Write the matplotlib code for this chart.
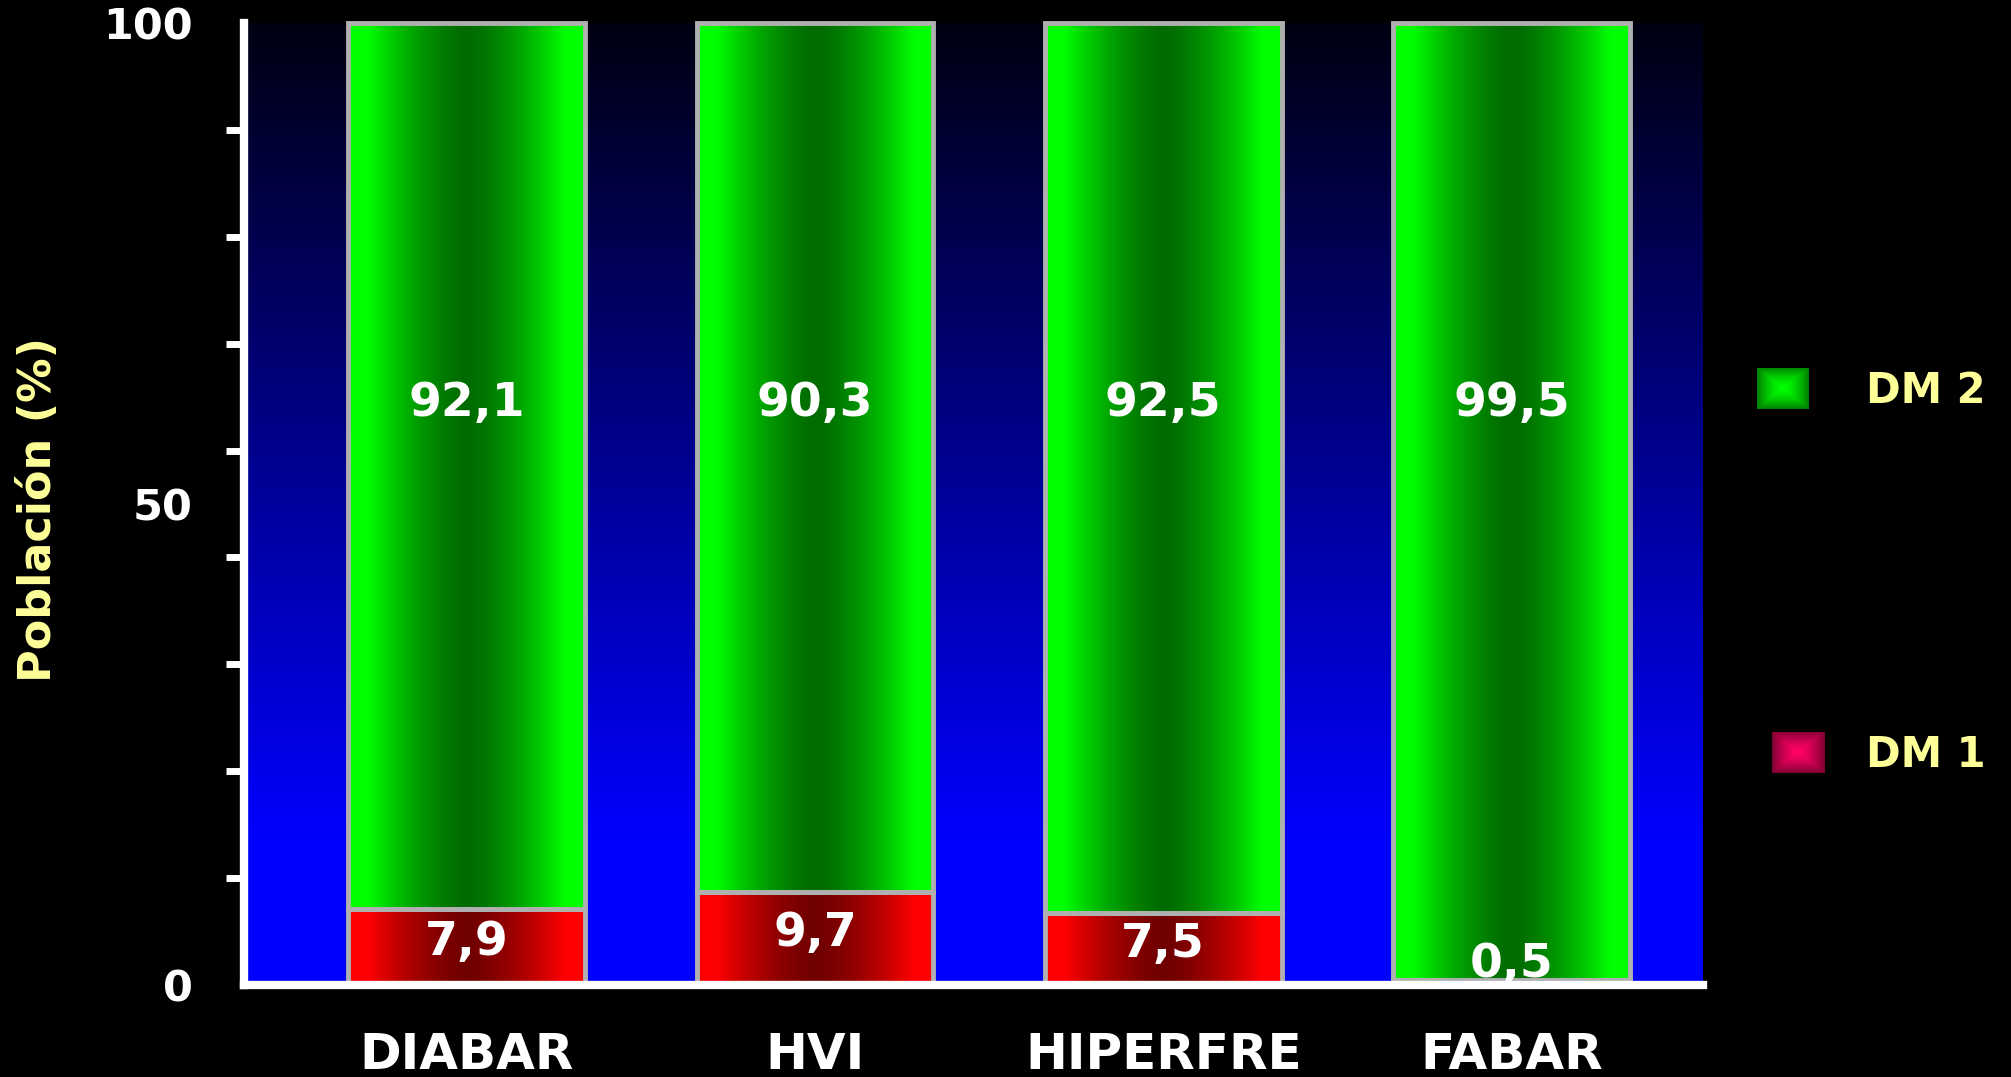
import numpy as np
import matplotlib
matplotlib.use("Agg")
import matplotlib.pyplot as plt

# data
categories = ["DIABAR", "HVI", "HIPERFRE", "FABAR"]
dm1 = [7.9, 9.7, 7.5, 0.5]
dm2 = [92.1, 90.3, 92.5, 99.5]
series_names = ["DM 1", "DM 2"]
y_labels = [0, 50, 100]

plt.rcParams['font.family'] = ['DejaVu Sans']
plt.rcParams['font.weight'] = 'bold'

pale_yellow = '#FFFF99'


def fmt(v):
    return f"{v:.1f}".replace('.', ',')


def bar_gradient(dark, bright):
    # bright at both edges, dark in the middle
    t = np.linspace(0, 1, 200)
    f = np.clip(np.abs(t - 0.5) / 0.42, 0, 1) ** 1.5
    dark = np.array(dark)
    bright = np.array(bright)
    rgb = dark[None, :] + (bright - dark)[None, :] * f[:, None]
    return rgb[None, :, :]


def square_gradient(center, edge):
    u = np.linspace(-1, 1, 60)
    d = np.maximum(np.abs(u)[None, :], np.abs(u)[:, None]) ** 1.5
    center = np.array(center)
    edge = np.array(edge)
    return center + (edge - center) * d[:, :, None]


fig = plt.figure(figsize=(20.11, 10.77), dpi=100, facecolor='black')
ax = fig.add_axes([0.1213, 0.0854, 0.7255, 0.8932])
ax.set_facecolor('black')

# background: dark navy at top fading to pure blue at the bottom
yy = np.linspace(0, 100, 300)
blue = np.where(yy < 15, 1.0, 1.0 - (yy - 15) / 85 * 0.93)
bg = np.zeros((300, 1, 3))
bg[:, 0, 2] = blue
ax.imshow(bg, extent=(0, 1, 0, 1), transform=ax.transAxes, aspect='auto',
          origin='lower', zorder=0)

x = np.arange(len(categories))
width = 0.68
red_img = bar_gradient((0.44, 0.0, 0.0), (1.0, 0.0, 0.0))
green_img = bar_gradient((0.0, 0.42, 0.0), (0.0, 1.0, 0.0))

for i in range(len(categories)):
    left = x[i] - width / 2
    ax.imshow(red_img, extent=(left, left + width, 0, dm1[i]),
              aspect='auto', zorder=2)
    ax.imshow(green_img, extent=(left, left + width, dm1[i], dm1[i] + dm2[i]),
              aspect='auto', zorder=2)

ax.bar(x, dm1, width, facecolor='none', edgecolor='#B0B0B0', linewidth=3.5,
       zorder=3, clip_on=False)
ax.bar(x, dm2, width, bottom=dm1, facecolor='none', edgecolor='#B0B0B0',
       linewidth=3.5, zorder=3, clip_on=False)

# value labels
for i in range(len(categories)):
    ax.text(x[i], 60.5, fmt(dm2[i]), color='white', fontsize=34,
            ha='center', va='center', zorder=6)
    ax.text(x[i], max(dm1[i] / 2 + 0.5, 2.1), fmt(dm1[i]), color='white',
            fontsize=34, ha='center', va='center', zorder=6)

ax.set_xlim(-0.64, 3.55)
ax.set_ylim(0, 100)

# axes styling
for side in ['top', 'right']:
    ax.spines[side].set_visible(False)
for side in ['left', 'bottom']:
    ax.spines[side].set_color('white')
    ax.spines[side].set_linewidth(6)
    ax.spines[side].set_zorder(5)

ax.set_yticks(y_labels)
ax.set_yticklabels([str(v) for v in y_labels])
ax.set_yticks(np.linspace(0, 100, 10), minor=True)
ax.tick_params(axis='y', which='major', length=0, pad=37, labelsize=31,
               labelcolor='white')
ax.tick_params(axis='y', which='minor', length=13, width=5, color='white')

ax.set_xticks(x)
ax.set_xticklabels(categories)
ax.tick_params(axis='x', length=0, pad=33, labelsize=36, labelcolor='white')

fig.text(0.0189, 0.527, 'Población (%)', rotation=90, color=pale_yellow,
         fontsize=32, ha='center', va='center')

# legend with shaded squares
lg_green = fig.add_axes([0.8737, 0.6202, 0.0254, 0.0381])
lg_green.imshow(square_gradient((0.0, 1.0, 0.0), (0.0, 0.5, 0.0)), aspect='auto')
lg_green.axis('off')
lg_red = fig.add_axes([0.8811, 0.2823, 0.0259, 0.0381])
lg_red.imshow(square_gradient((1.0, 0.0, 0.4), (0.5, 0.0, 0.2)), aspect='auto')
lg_red.axis('off')

fig.text(0.9279, 0.637, series_names[1], color=pale_yellow, fontsize=30,
         ha='left', va='center')
fig.text(0.9279, 0.299, series_names[0], color=pale_yellow, fontsize=30,
         ha='left', va='center')

fig.savefig('out.png', facecolor='black')
